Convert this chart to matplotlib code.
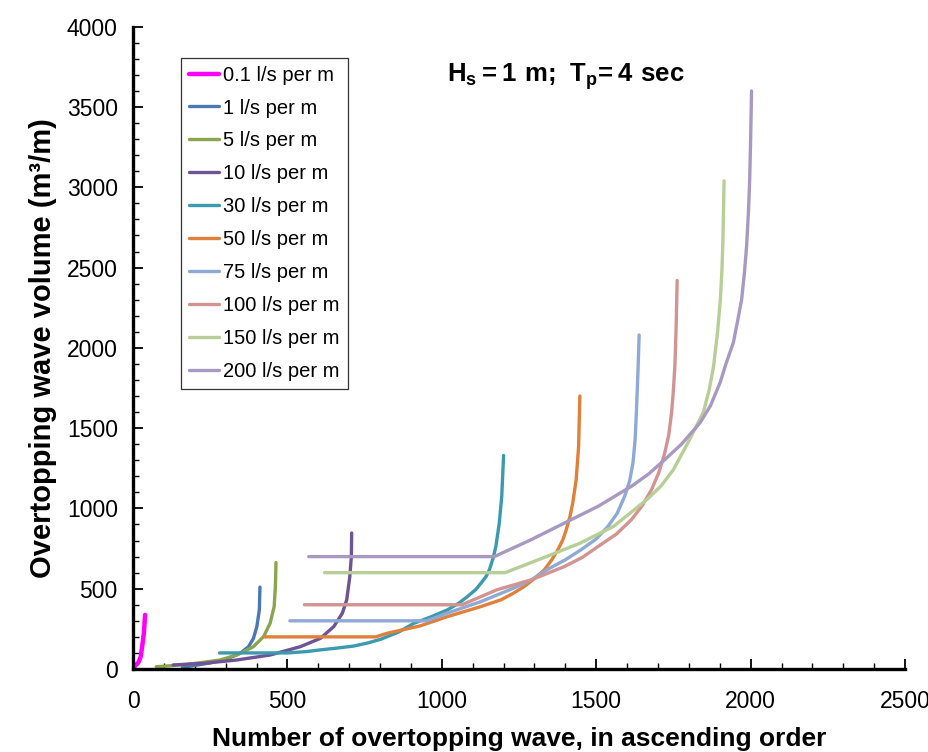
import matplotlib
matplotlib.use("Agg")
import matplotlib.pyplot as plt
from matplotlib.ticker import MultipleLocator

plt.rcParams['font.family'] = ['Liberation Sans', 'DejaVu Sans']
plt.rcParams['mathtext.fontset'] = 'custom'
plt.rcParams['mathtext.bf'] = 'Liberation Sans:bold'
plt.rcParams['mathtext.rm'] = 'Liberation Sans'
###############################################################################
# Data (wave number vs overtopping volume)
labels = ["0.1 l/s per m", "1 l/s per m", "5 l/s per m", "10 l/s per m",
          "30 l/s per m", "50 l/s per m", "75 l/s per m", "100 l/s per m",
          "150 l/s per m", "200 l/s per m"]

x_01 = [3, 6, 17, 25, 31, 35, 39]
y_01 = [3, 19, 39, 77, 160, 222, 337]

x_1 = [160, 200, 250, 300, 347, 374, 390, 401, 409, 411]
y_1 = [10, 22, 38, 60, 98, 139, 191, 264, 368, 510]

x_5 = [75, 120, 174, 230, 282, 336, 390, 423, 444, 457, 461, 463]
y_5 = [14, 20, 29, 42, 56, 87, 139, 202, 285, 389, 514, 663]

x_10 = [130, 228, 336, 444, 542, 607, 650, 678, 692, 702, 707, 708]
y_10 = [25, 35, 56, 87, 139, 191, 264, 348, 431, 576, 701, 847]

x_30 = [280, 500, 560, 607, 660, 715, 760, 802, 860, 910, 965, 1018, 1055,
        1083, 1110, 1127, 1143, 1154, 1166, 1175, 1186, 1194, 1200]
y_30 = [100, 100, 108, 119, 130, 143, 162, 185, 230, 285, 325, 368, 410,
        451, 495, 535, 575, 618, 690, 763, 909, 1075, 1330]

x_50 = [425, 786, 822, 929, 1018, 1127, 1192, 1230, 1267, 1300, 1332, 1356,
        1376, 1392, 1403, 1415, 1424, 1435, 1443, 1447]
y_50 = [200, 200, 222, 268, 326, 389, 431, 470, 514, 563, 618, 680,
        743, 805, 868, 950, 1034, 1179, 1387, 1700]

x_75 = [508, 951, 1018, 1127, 1232, 1290, 1340, 1400, 1451, 1500, 1538, 1568,
        1592, 1608, 1619, 1626, 1630, 1635, 1639]
y_75 = [300, 300, 348, 420, 503, 555, 618, 680, 743, 810, 888, 970,
        1075, 1170, 1284, 1430, 1596, 1845, 2080]

x_100 = [555, 1065, 1178, 1289, 1397, 1455, 1506, 1565, 1614, 1650, 1679, 1703,
         1722, 1735, 1744, 1750, 1755, 1759, 1762]
y_100 = [400, 400, 493, 555, 638, 695, 763, 840, 930, 1020, 1117, 1225,
         1346, 1460, 1596, 1740, 1900, 2150, 2420]

x_150 = [620, 1205, 1340, 1448, 1556, 1664, 1710, 1750, 1800, 1847, 1866, 1880,
         1893, 1902, 1907, 1910, 1914]
y_150 = [600, 600, 701, 784, 888, 1055, 1140, 1242, 1420, 1600, 1740, 1886,
         2100, 2303, 2480, 2650, 3040]

x_200 = [569, 1170, 1289, 1397, 1506, 1614, 1670, 1722, 1776, 1836, 1870, 1901,
         1920, 1944, 1958, 1971, 1980, 1987, 1993, 1997, 2000, 2003]
y_200 = [700, 700, 805, 909, 1013, 1138, 1215, 1304, 1400, 1533, 1640, 1783,
         1900, 2032, 2170, 2303, 2470, 2635, 2850, 3051, 3300, 3600]

series_x = [x_01, x_1, x_5, x_10, x_30, x_50, x_75, x_100, x_150, x_200]
series_y = [y_01, y_1, y_5, y_10, y_30, y_50, y_75, y_100, y_150, y_200]
colors = ["#FF00FF", "#4A78B4", "#89A54E", "#6F5495", "#3C9AB0",
          "#E0803A", "#8EA9D6", "#D39391", "#B7CF96", "#A899C2"]
widths = [3.2, 2.4, 2.4, 2.4, 2.4, 2.4, 2.4, 2.4, 2.4, 2.4]
###############################################################################
fig = plt.figure(figsize=(9.29, 7.52), dpi=100)
ax = fig.add_axes([0.1432, 0.1104, 0.831, 0.854])

for xs, ys, c, lw, lab in zip(series_x, series_y, colors, widths, labels):
    ax.plot(xs, ys, color=c, linewidth=lw, label=lab,
            solid_capstyle="round", solid_joinstyle="round")

ax.set_xlim(0, 2500)
ax.set_ylim(0, 4000)
ax.xaxis.set_major_locator(MultipleLocator(500))
ax.xaxis.set_minor_locator(MultipleLocator(100))
ax.yaxis.set_major_locator(MultipleLocator(500))
ax.yaxis.set_minor_locator(MultipleLocator(100))
ax.tick_params(which="major", direction="in", length=7, width=1.3, labelsize=16.5)
ax.tick_params(which="minor", direction="in", length=4.5, width=1.0)
ax.tick_params(axis="x", which="major", pad=15)
ax.tick_params(axis="y", which="major", pad=11)

for side in ["top", "right"]:
    ax.spines[side].set_visible(False)
for side in ["left", "bottom"]:
    ax.spines[side].set_linewidth(2.4)

ax.set_xlabel("Number of overtopping wave, in ascending order",
              fontsize=19, fontweight="bold", labelpad=10)
ax.set_ylabel("Overtopping wave volume (m\u00b3/m)",
              fontsize=21, fontweight="bold", labelpad=7)

ax.text(0.561, 0.922, r"$\mathbf{H_s = 1\ m;\ T_p\!= 4\ sec}$",
        transform=ax.transAxes, ha="center", va="center", fontsize=18.5)

leg = ax.legend(loc="upper left", bbox_to_anchor=(0.062, 0.952), fontsize=14.5,
                frameon=True, fancybox=False, edgecolor="black",
                handlelength=1.5, handletextpad=0.2, labelspacing=0.69,
                borderpad=0.4, borderaxespad=0)
leg.get_frame().set_linewidth(0.9)

fig.savefig("out.png", dpi=100)
